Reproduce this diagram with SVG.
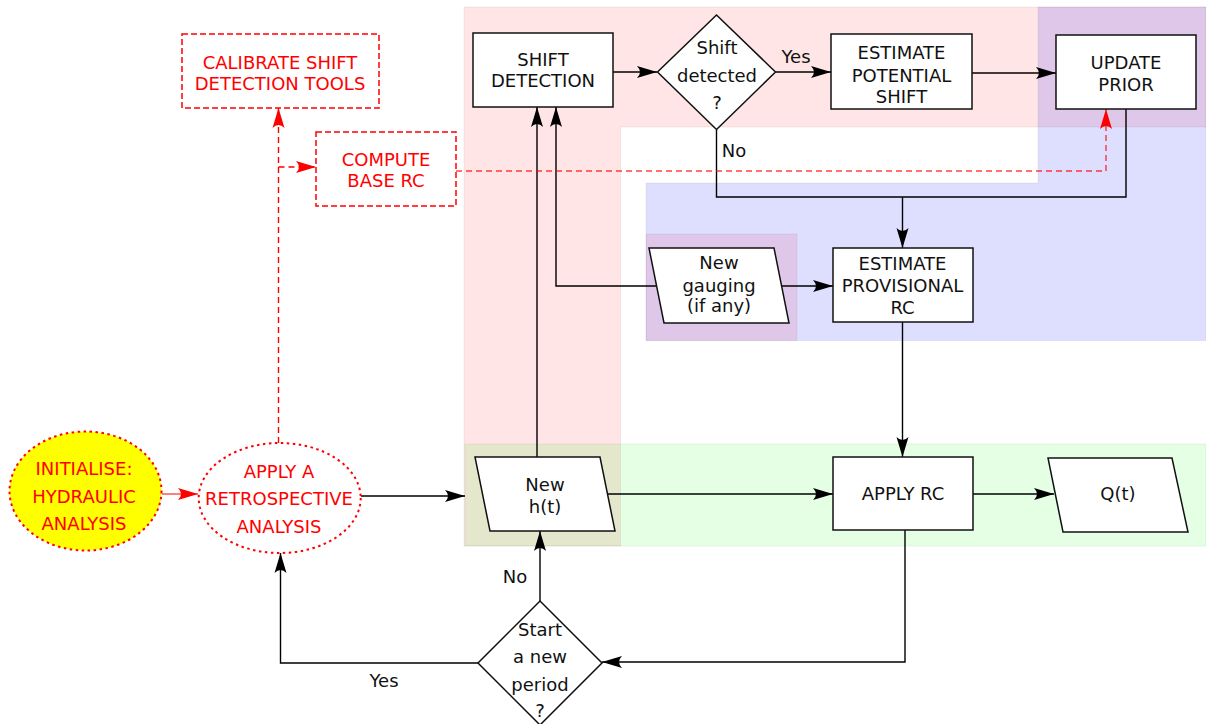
<svg xmlns="http://www.w3.org/2000/svg" width="1206" height="724" viewBox="0 0 1206 724">
<defs>
<marker id="ah" viewBox="-21 -7 22 14" markerWidth="22" markerHeight="14" refX="0" refY="0" orient="auto" markerUnits="userSpaceOnUse">
<path d="M0,0 L-20,-6 Q-14,0 -20,6 Z" fill="#000"/>
</marker>
<marker id="ahr" viewBox="-21 -7 22 14" markerWidth="22" markerHeight="14" refX="0" refY="0" orient="auto" markerUnits="userSpaceOnUse">
<path d="M0,0 L-20,-6 Q-14,0 -20,6 Z" fill="#ff0000"/>
</marker>
</defs>
<style>
text{font-family:"DejaVu Sans","Liberation Sans",sans-serif;font-size:18px;text-anchor:middle;fill:#111}
.r text,text.r{fill:#ff0000}
.box{fill:#fff;stroke:#111;stroke-width:1.5}
.rbox{fill:#fff;stroke:#ff0000;stroke-width:1.5;stroke-dasharray:6,3}
.ell{stroke:#ff0000;stroke-width:2;stroke-dasharray:2.5,3.5}
.ln{fill:none;stroke:#000;stroke-width:1.4}
.rl{fill:none;stroke:#ff0000;stroke-width:1.4;stroke-dasharray:6,4}
.reg{stroke:#000;stroke-opacity:0.06;stroke-width:1}
</style>
<g id="regions">
<path class="reg" d="M464,7 H1206 V127 H620.5 V546 H464 Z" fill="#ff0000" fill-opacity="0.1"/>
<rect class="reg" x="646" y="234" width="151" height="106.5" fill="#ff0000" fill-opacity="0.1"/>
<path class="reg" d="M1038,7 H1206 V340.5 H646 V183 H1038 Z" fill="#0000ff" fill-opacity="0.13"/>
<rect class="reg" x="465" y="444" width="741" height="102" fill="#00ff00" fill-opacity="0.1"/>
</g>
<g id="connectors">
<path class="ln" d="M613,72 H657" marker-end="url(#ah)"/>
<path class="ln" d="M775.5,72 H831" marker-end="url(#ah)"/>
<path class="ln" d="M972,73 H1056" marker-end="url(#ah)"/>
<path class="ln" d="M716.5,129.5 V197 H1126 V109"/>
<path class="ln" d="M902.5,197 V248" marker-end="url(#ah)"/>
<path class="ln" d="M656,286 H556 V107" marker-end="url(#ah)"/>
<path class="ln" d="M782,286 H833" marker-end="url(#ah)"/>
<path class="ln" d="M537,457 V107" marker-end="url(#ah)"/>
<path class="ln" d="M902.5,322 V457" marker-end="url(#ah)"/>
<path class="ln" d="M608,494 H833" marker-end="url(#ah)"/>
<path class="ln" d="M973,494 H1054" marker-end="url(#ah)"/>
<path class="ln" d="M905,530 V662 H602" marker-end="url(#ah)"/>
<path class="ln" d="M540,601 V531" marker-end="url(#ah)"/>
<path class="ln" d="M478,663 H280.5 V553" marker-end="url(#ah)"/>
<path class="ln" d="M361,496 H465" marker-end="url(#ah)"/>
<path fill="none" stroke="#ff0000" stroke-width="1.2" d="M162,494 H198" marker-end="url(#ahr)"/>
<path class="rl" d="M278.5,443 V108" marker-end="url(#ahr)"/>
<path class="rl" d="M278.5,167 H316" marker-end="url(#ahr)"/>
<path class="rl" stroke-opacity="0.75" d="M456,171 H1106 V109" marker-end="url(#ahr)"/>
<text x="796" y="63">Yes</text>
<text x="734" y="157">No</text>
<text x="515" y="583">No</text>
<text x="384" y="687">Yes</text>
</g>
<g id="calibrate" class="r">
<rect class="rbox" x="182" y="34" width="197" height="74"/>
<text x="280" y="69">CALIBRATE SHIFT</text>
<text x="280" y="90">DETECTION TOOLS</text>
</g>
<g id="compute-base-rc" class="r">
<rect class="rbox" x="316" y="132" width="140" height="74"/>
<text x="386" y="166">COMPUTE</text>
<text x="386" y="187">BASE RC</text>
</g>
<g id="initialise" class="r">
<ellipse class="ell" cx="85.5" cy="491" rx="76" ry="59.5" fill="#ffff00"/>
<text x="84" y="475">INITIALISE:</text>
<text x="84" y="503">HYDRAULIC</text>
<text x="84" y="530">ANALYSIS</text>
</g>
<g id="apply-retrospective" class="r">
<ellipse class="ell" cx="279.7" cy="498" rx="81" ry="55" fill="#fff"/>
<text x="279" y="478">APPLY A</text>
<text x="279" y="505">RETROSPECTIVE</text>
<text x="279" y="533">ANALYSIS</text>
</g>
<g id="shift-detection">
<rect class="box" x="473" y="33" width="140" height="74"/>
<text x="543" y="66">SHIFT</text>
<text x="543" y="87">DETECTION</text>
</g>
<g id="shift-detected">
<polygon class="box" points="716.5,15 775.5,72 716.5,129.5 657.5,72"/>
<text x="717" y="54">Shift</text>
<text x="717" y="82">detected</text>
<text x="717" y="109">?</text>
</g>
<g id="estimate-potential-shift">
<rect class="box" x="831" y="34" width="141" height="75"/>
<text x="901.5" y="59">ESTIMATE</text>
<text x="901.5" y="81.5">POTENTIAL</text>
<text x="901.5" y="103">SHIFT</text>
</g>
<g id="update-prior">
<rect class="box" x="1056" y="35" width="140" height="74"/>
<text x="1126" y="69">UPDATE</text>
<text x="1126" y="90.5">PRIOR</text>
</g>
<g id="new-gauging">
<polygon class="box" points="649,248 774,248 789,323 664,323"/>
<text x="719" y="269">New</text>
<text x="719" y="291.5">gauging</text>
<text x="719" y="312">(if any)</text>
</g>
<g id="estimate-provisional-rc">
<rect class="box" x="833" y="248" width="140" height="74"/>
<text x="902.5" y="270">ESTIMATE</text>
<text x="902.5" y="291.5">PROVISIONAL</text>
<text x="902.5" y="314">RC</text>
</g>
<g id="new-ht">
<polygon class="box" points="475,457 600,457 615,531 490,531"/>
<text x="545" y="491">New</text>
<text x="545" y="512.5">h(t)</text>
</g>
<g id="apply-rc">
<rect class="box" x="833" y="457" width="140" height="73"/>
<text x="903" y="500">APPLY RC</text>
</g>
<g id="qt">
<polygon class="box" points="1048,458 1172,458 1188,532 1063,532"/>
<text x="1118" y="500">Q(t)</text>
</g>
<g id="start-new-period">
<polygon class="box" points="540,601 602,663 540,725 478,663"/>
<text x="540" y="636">Start</text>
<text x="540" y="663">a new</text>
<text x="540" y="691">period</text>
<text x="540" y="717">?</text>
</g>
</svg>
